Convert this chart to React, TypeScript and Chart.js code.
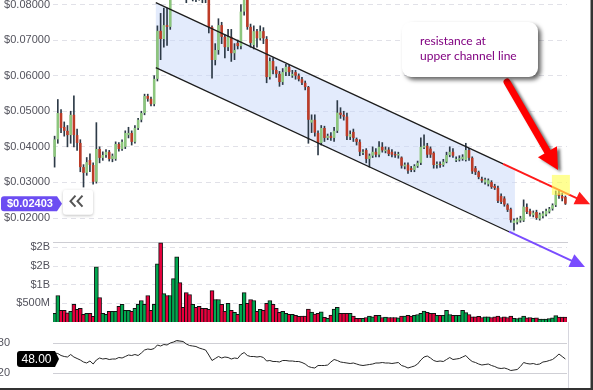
import React, { useEffect, useRef } from "react";
import { Chart, registerables } from "chart.js";

Chart.register(...registerables);

// ---------------- data ----------------
const OPEN = [
  0.0372, 0.0421, 0.0495, 0.0456, 0.0445, 0.0433, 0.0490, 0.0433, 0.0411, 0.0343,
  0.0327, 0.0363, 0.0349, 0.0302, 0.0394, 0.0369, 0.0377, 0.0386, 0.0366, 0.0366,
  0.0408, 0.0394, 0.0400, 0.0433, 0.0439, 0.0414, 0.0453, 0.0476, 0.0495, 0.0543,
  0.0535, 0.0520, 0.0591, 0.0726, 0.0703, 0.0742, 0.0737, 0.0830, 0.0880, 0.0960,
  0.0900, 0.0880, 0.0850, 0.0830, 0.0860, 0.0845, 0.0835, 0.0825, 0.0813, 0.0737,
  0.0644, 0.0672, 0.0742, 0.0709, 0.0680, 0.0709, 0.0663, 0.0692, 0.0683, 0.0780,
  0.0830, 0.0737, 0.0686, 0.0725, 0.0705, 0.0725, 0.0703, 0.0596, 0.0641, 0.0616,
  0.0605, 0.0582, 0.0610, 0.0625, 0.0600, 0.0610, 0.0600, 0.0590, 0.0580, 0.0568,
  0.0468, 0.0476, 0.0439, 0.0411, 0.0453, 0.0425, 0.0431, 0.0425, 0.0445, 0.0496,
  0.0490, 0.0485, 0.0428, 0.0442, 0.0422, 0.0414, 0.0383, 0.0391, 0.0366, 0.0375,
  0.0386, 0.0378, 0.0400, 0.0388, 0.0392, 0.0386, 0.0380, 0.0376, 0.0370, 0.0345,
  0.0350, 0.0340, 0.0335, 0.0346, 0.0355, 0.0398, 0.0403, 0.0395, 0.0383, 0.0349,
  0.0352, 0.0349, 0.0358, 0.0377, 0.0386, 0.0362, 0.0364, 0.0366, 0.0363, 0.0391,
  0.0369, 0.0340, 0.0329, 0.0310, 0.0300, 0.0295, 0.0301, 0.0290, 0.0285, 0.0262,
  0.0255, 0.0237, 0.0225, 0.0186, 0.0188, 0.0193, 0.0193, 0.0231, 0.0220, 0.0208,
  0.0217, 0.0198, 0.0205, 0.0210, 0.0218, 0.0226, 0.0236, 0.0270, 0.0262, 0.0259,
];
const HIGH = [
  0.0430, 0.0533, 0.0505, 0.0470, 0.0460, 0.0500, 0.0543, 0.0450, 0.0420, 0.0350,
  0.0370, 0.0380, 0.0355, 0.0468, 0.0400, 0.0386, 0.0392, 0.0390, 0.0380, 0.0414,
  0.0412, 0.0420, 0.0445, 0.0455, 0.0445, 0.0460, 0.0480, 0.0500, 0.0548, 0.0548,
  0.0540, 0.0600, 0.0740, 0.0775, 0.0790, 0.0790, 0.0850, 0.0900, 0.0990, 0.1000,
  0.0920, 0.0900, 0.0880, 0.0880, 0.0870, 0.0860, 0.0850, 0.0840, 0.0825, 0.0740,
  0.0690, 0.0760, 0.0750, 0.0715, 0.0730, 0.0730, 0.0690, 0.0700, 0.0800, 0.0860,
  0.0850, 0.0745, 0.0740, 0.0730, 0.0740, 0.0735, 0.0710, 0.0650, 0.0650, 0.0625,
  0.0612, 0.0620, 0.0632, 0.0630, 0.0615, 0.0615, 0.0605, 0.0595, 0.0585, 0.0570,
  0.0490, 0.0490, 0.0445, 0.0460, 0.0458, 0.0436, 0.0440, 0.0455, 0.0530, 0.0510,
  0.0500, 0.0495, 0.0445, 0.0450, 0.0425, 0.0420, 0.0392, 0.0395, 0.0380, 0.0400,
  0.0395, 0.0415, 0.0412, 0.0400, 0.0398, 0.0392, 0.0386, 0.0385, 0.0372, 0.0355,
  0.0355, 0.0345, 0.0350, 0.0360, 0.0425, 0.0434, 0.0410, 0.0400, 0.0386, 0.0358,
  0.0358, 0.0365, 0.0385, 0.0400, 0.0395, 0.0372, 0.0375, 0.0378, 0.0410, 0.0396,
  0.0372, 0.0345, 0.0332, 0.0315, 0.0312, 0.0310, 0.0305, 0.0295, 0.0290, 0.0268,
  0.0260, 0.0240, 0.0228, 0.0198, 0.0200, 0.0205, 0.0251, 0.0240, 0.0225, 0.0220,
  0.0222, 0.0214, 0.0218, 0.0225, 0.0230, 0.0240, 0.0276, 0.0280, 0.0270, 0.0262,
];
const LOW = [
  0.0343, 0.0410, 0.0440, 0.0430, 0.0400, 0.0410, 0.0400, 0.0390, 0.0330, 0.0287,
  0.0320, 0.0330, 0.0295, 0.0298, 0.0355, 0.0362, 0.0370, 0.0360, 0.0358, 0.0362,
  0.0388, 0.0390, 0.0395, 0.0425, 0.0405, 0.0410, 0.0448, 0.0470, 0.0490, 0.0528,
  0.0515, 0.0515, 0.0585, 0.0645, 0.0680, 0.0685, 0.0730, 0.0815, 0.0860, 0.0870,
  0.0850, 0.0805, 0.0815, 0.0810, 0.0808, 0.0812, 0.0805, 0.0805, 0.0720, 0.0593,
  0.0630, 0.0660, 0.0690, 0.0650, 0.0670, 0.0640, 0.0645, 0.0675, 0.0675, 0.0770,
  0.0730, 0.0680, 0.0675, 0.0680, 0.0700, 0.0690, 0.0580, 0.0590, 0.0605, 0.0595,
  0.0570, 0.0575, 0.0600, 0.0600, 0.0595, 0.0590, 0.0585, 0.0575, 0.0560, 0.0410,
  0.0440, 0.0430, 0.0377, 0.0405, 0.0415, 0.0420, 0.0418, 0.0415, 0.0440, 0.0480,
  0.0475, 0.0420, 0.0420, 0.0415, 0.0405, 0.0375, 0.0378, 0.0355, 0.0343, 0.0370,
  0.0372, 0.0372, 0.0385, 0.0383, 0.0375, 0.0372, 0.0370, 0.0368, 0.0340, 0.0338,
  0.0325, 0.0330, 0.0330, 0.0342, 0.0350, 0.0395, 0.0370, 0.0370, 0.0340, 0.0340,
  0.0342, 0.0345, 0.0355, 0.0372, 0.0370, 0.0358, 0.0360, 0.0362, 0.0360, 0.0362,
  0.0325, 0.0322, 0.0310, 0.0300, 0.0295, 0.0290, 0.0283, 0.0280, 0.0243, 0.0240,
  0.0233, 0.0218, 0.0188, 0.0166, 0.0183, 0.0188, 0.0190, 0.0212, 0.0205, 0.0203,
  0.0196, 0.0194, 0.0200, 0.0206, 0.0214, 0.0222, 0.0232, 0.0255, 0.0248, 0.0238,
];
const CLOSE = [
  0.0421, 0.0495, 0.0453, 0.0445, 0.0433, 0.0490, 0.0433, 0.0411, 0.0343, 0.0327,
  0.0357, 0.0349, 0.0302, 0.0394, 0.0369, 0.0377, 0.0386, 0.0366, 0.0375, 0.0408,
  0.0394, 0.0414, 0.0439, 0.0439, 0.0414, 0.0453, 0.0476, 0.0495, 0.0543, 0.0535,
  0.0520, 0.0591, 0.0726, 0.0703, 0.0742, 0.0737, 0.0830, 0.0880, 0.0960, 0.0900,
  0.0880, 0.0850, 0.0830, 0.0860, 0.0845, 0.0835, 0.0825, 0.0813, 0.0737, 0.0644,
  0.0672, 0.0742, 0.0709, 0.0680, 0.0709, 0.0663, 0.0672, 0.0683, 0.0780, 0.0830,
  0.0737, 0.0692, 0.0725, 0.0705, 0.0725, 0.0705, 0.0596, 0.0641, 0.0616, 0.0605,
  0.0582, 0.0610, 0.0625, 0.0610, 0.0605, 0.0600, 0.0590, 0.0580, 0.0568, 0.0476,
  0.0476, 0.0440, 0.0411, 0.0453, 0.0425, 0.0431, 0.0425, 0.0445, 0.0496, 0.0490,
  0.0485, 0.0430, 0.0436, 0.0425, 0.0414, 0.0386, 0.0386, 0.0366, 0.0375, 0.0386,
  0.0378, 0.0400, 0.0390, 0.0392, 0.0380, 0.0378, 0.0376, 0.0380, 0.0347, 0.0350,
  0.0333, 0.0335, 0.0346, 0.0355, 0.0400, 0.0403, 0.0378, 0.0378, 0.0349, 0.0352,
  0.0349, 0.0358, 0.0377, 0.0386, 0.0375, 0.0366, 0.0368, 0.0372, 0.0391, 0.0369,
  0.0331, 0.0329, 0.0315, 0.0305, 0.0308, 0.0306, 0.0287, 0.0284, 0.0248, 0.0245,
  0.0238, 0.0223, 0.0194, 0.0193, 0.0196, 0.0199, 0.0232, 0.0217, 0.0210, 0.0215,
  0.0200, 0.0210, 0.0213, 0.0220, 0.0226, 0.0236, 0.0266, 0.0262, 0.0255, 0.02403,
];
// volume in millions of dollars
const VOLUME = [
  231, 709, 310, 310, 248, 284, 470, 337, 364, 204,
  230, 230, 151, 1480, 656, 230, 204, 284, 284, 284,
  417, 470, 310, 310, 284, 364, 470, 576, 470, 709,
  310, 470, 1560, 2119, 762, 709, 709, 1162, 1747, 1055,
  390, 789, 736, 470, 390, 417, 364, 364, 337, 842,
  603, 603, 470, 284, 497, 310, 257, 204, 470, 789,
  497, 603, 576, 284, 337, 310, 497, 576, 470, 364,
  257, 284, 230, 204, 204, 177, 151, 160, 160, 346,
  266, 213, 230, 275, 124, 98, 186, 346, 390, 230,
  230, 230, 230, 160, 98, 98, 98, 120, 160, 140,
  180, 180, 120, 130, 120, 120, 120, 110, 160, 160,
  180, 160, 180, 200, 230, 290, 260, 230, 230, 180,
  180, 180, 310, 200, 180, 180, 180, 310, 250, 200,
  140, 140, 150, 120, 140, 140, 120, 140, 160, 120,
  140, 120, 160, 100, 90, 110, 160, 110, 120, 100,
  110, 80, 80, 80, 90, 110, 170, 130, 130, 130,
];
const RSI = [
  60, 59, 55, 53, 52, 57, 52, 49, 46, 42,
  40, 44, 38, 46, 50, 48, 49, 47, 48, 48,
  51, 50, 53, 56, 55, 57, 55, 60, 66, 68,
  67, 69, 76, 74, 77, 76, 80, 82, 85, 84,
  83, 78, 75, 74, 73, 70, 68, 66, 56, 45,
  49, 53, 50, 52, 51, 48, 50, 49, 57, 61,
  55, 53, 53, 52, 53, 51, 44, 45, 43, 43,
  42, 45, 45, 44, 44, 43, 43, 41, 38, 33,
  31, 30, 35, 35, 35, 36, 42, 47, 45, 42,
  41, 40, 39, 40, 38, 36, 35, 36, 37, 38,
  40, 40, 41, 40, 40, 39, 40, 41, 35, 33,
  30, 32, 34, 38, 46, 52, 54, 50, 45, 43,
  44, 43, 47, 51, 47, 48, 49, 52, 55, 48,
  43, 41, 38, 36, 37, 38, 35, 33, 30, 29,
  30, 28, 25, 26, 27, 33, 41, 39, 38, 39,
  37, 38, 42, 43, 45, 47, 52, 58, 53, 48,
];
const LABELS = CLOSE.map((_, i) => String(i));

const PRICE_TICKS = [0.02, 0.03, 0.04, 0.05, 0.06, 0.07, 0.08];
const PRICE_MIN = 0.01326;
const PRICE_MAX = 0.08126;
const VOLUME_TICKS = [500, 1000, 1500, 2000];
const VOLUME_MAX = 2143;
const RSI_TICKS = [20, 80];
const RSI_MIN = -10;
const RSI_MAX = 122;

// annotations in data space: [candle index, price]
const CHANNEL_UPPER = [[31.5, 0.0805], [139.6, 0.0352]];
const CHANNEL_LOWER = [[31.5, 0.06225], [141.45, 0.01615]];
const CHANNEL_FILL_END = 143.3;
const RESISTANCE_TIP = 166.7;
const SUPPORT_TIP = 165.1;
const HIGHLIGHT_BOX = [[154.8, 0.03211], [160.4, 0.02649]];
const POINTER_ARROW = [[140.83, 0.05823], [156.7, 0.03351]];
const CALLOUT_BOX = [[108.14, 0.07508], [150.47, 0.05963]];
const CALLOUT_TEXT = ["resistance at", "upper channel line"];

// ---------------- layout / style ----------------
const W = 593;
const H = 390;
const AXIS_W = 53;
const PLOT_RIGHT = 567;
const PRICE_PANE = [0, 242];
const VOLUME_PANE = [242, 322];
const RSI_PANE = [322, 388];

const UP = "#8cc67d";
const DOWN = "#bd3b27";
const WICK = "#2d3a47";
const VOL_UP = "#00a84f";
const VOL_DOWN = "#e8003d";
const AXIS_FONT = { family: "'Liberation Sans', Arial, sans-serif", size: 11 };

function lineAt(line: number[][], i: number) {
  const [[i0, p0], [i1, p1]] = line;
  return p0 + ((p1 - p0) * (i - i0)) / (i1 - i0);
}

function arrowHead(ctx: any, x1: number, y1: number, x2: number, y2: number, len: number, half: number) {
  const a = Math.atan2(y2 - y1, x2 - x1);
  const bx = x2 - len * Math.cos(a);
  const by = y2 - len * Math.sin(a);
  ctx.beginPath();
  ctx.moveTo(x2, y2);
  ctx.lineTo(bx + half * Math.sin(a), by - half * Math.cos(a));
  ctx.lineTo(bx - half * Math.sin(a), by + half * Math.cos(a));
  ctx.closePath();
  ctx.fill();
}

function yAxis(min: number, max: number, ticks: number[], fmt: (v: number) => string, pad: number, gridColor: string, dash: number[]) {
  return {
    type: "linear",
    position: "left",
    min,
    max,
    afterBuildTicks: (s: any) => {
      s.ticks = ticks.map((v) => ({ value: v }));
    },
    afterFit: (s: any) => {
      s.width = AXIS_W;
      s.paddingTop = 0;
      s.paddingBottom = 0;
    },
    ticks: { autoSkip: false, color: "#52525c", font: AXIS_FONT, padding: pad, callback: (v: any) => fmt(Number(v)) },
    grid: { color: gridColor, drawTicks: false, lineWidth: 1 },
    border: { display: false, dash },
  };
}

function baseOptions(pane: number[], y: any) {
  return {
    responsive: false,
    animation: false,
    events: [],
    layout: { padding: { left: 0, right: W - PLOT_RIGHT, top: pane[0], bottom: H - pane[1] } },
    plugins: { legend: { display: false }, tooltip: { enabled: false } },
    scales: { x: { type: "category", display: false, offset: true }, y },
  };
}

const isUp = (i: number) => CLOSE[i] >= OPEN[i];

export default function App() {
  const priceRef = useRef<HTMLCanvasElement>(null);
  const volRef = useRef<HTMLCanvasElement>(null);
  const rsiRef = useRef<HTMLCanvasElement>(null);

  useEffect(() => {
    const charts: any[] = [];

    // ---------- price ----------
    const priceOverlay = {
      id: "priceOverlay",
      beforeDatasetsDraw(chart: any) {
        const { ctx, scales } = chart;
        const X = (i: number) => scales.x.getPixelForValue(i);
        const Y = (p: number) => scales.y.getPixelForValue(p);
        const s = CHANNEL_UPPER[0][0];
        ctx.save();
        ctx.beginPath();
        ctx.moveTo(X(s), Y(lineAt(CHANNEL_UPPER, s)));
        ctx.lineTo(X(CHANNEL_FILL_END), Y(lineAt(CHANNEL_UPPER, CHANNEL_FILL_END)));
        ctx.lineTo(X(CHANNEL_FILL_END), Y(lineAt(CHANNEL_LOWER, CHANNEL_FILL_END)));
        ctx.lineTo(X(s), Y(lineAt(CHANNEL_LOWER, s)));
        ctx.closePath();
        ctx.fillStyle = "rgba(200,216,250,0.5)";
        ctx.fill();
        ctx.restore();
      },
      afterDraw(chart: any) {
        const { ctx, scales } = chart;
        const X = (i: number) => scales.x.getPixelForValue(i);
        const Y = (p: number) => scales.y.getPixelForValue(p);
        ctx.save();
        // channel lines
        ctx.strokeStyle = "#1c1c1c";
        ctx.lineWidth = 1.3;
        for (const line of [CHANNEL_UPPER, CHANNEL_LOWER]) {
          ctx.beginPath();
          ctx.moveTo(X(line[0][0]), Y(line[0][1]));
          ctx.lineTo(X(line[1][0]), Y(line[1][1]));
          ctx.stroke();
        }
        // extensions
        const ext = (line: number[][], tip: number, color: string) => {
          const x1 = X(line[1][0]);
          const y1 = Y(line[1][1]);
          const x2 = X(tip);
          const y2 = Y(lineAt(line, tip));
          const a = Math.atan2(y2 - y1, x2 - x1);
          ctx.strokeStyle = color;
          ctx.fillStyle = color;
          ctx.lineWidth = 2;
          ctx.beginPath();
          ctx.moveTo(x1, y1);
          ctx.lineTo(x2 - 12 * Math.cos(a), y2 - 12 * Math.sin(a));
          ctx.stroke();
          arrowHead(ctx, x1, y1, x2, y2, 15, 7);
        };
        ext(CHANNEL_UPPER, RESISTANCE_TIP, "#ff1a1a");
        ext(CHANNEL_LOWER, SUPPORT_TIP, "#7a4cff");
        // highlight box
        ctx.fillStyle = "rgba(255,255,80,0.62)";
        const hx0 = X(HIGHLIGHT_BOX[0][0]);
        const hy0 = Y(HIGHLIGHT_BOX[0][1]);
        ctx.fillRect(hx0, hy0, X(HIGHLIGHT_BOX[1][0]) - hx0, Y(HIGHLIGHT_BOX[1][1]) - hy0);
        // big pointer arrow
        {
          const x1 = X(POINTER_ARROW[0][0]);
          const y1 = Y(POINTER_ARROW[0][1]);
          const x2 = X(POINTER_ARROW[1][0]);
          const y2 = Y(POINTER_ARROW[1][1]);
          const a = Math.atan2(y2 - y1, x2 - x1);
          ctx.save();
          ctx.shadowColor = "rgba(0,0,0,0.55)";
          ctx.shadowBlur = 3;
          ctx.shadowOffsetX = 3;
          ctx.shadowOffsetY = 2;
          ctx.strokeStyle = "#ff0000";
          ctx.fillStyle = "#ff0000";
          ctx.lineWidth = 7;
          ctx.lineCap = "round";
          ctx.beginPath();
          ctx.moveTo(x1, y1);
          ctx.lineTo(x2 - 18 * Math.cos(a), y2 - 18 * Math.sin(a));
          ctx.stroke();
          arrowHead(ctx, x1, y1, x2, y2, 21, 11);
          ctx.restore();
        }
        // callout
        {
          const bx0 = X(CALLOUT_BOX[0][0]);
          const by0 = Y(CALLOUT_BOX[0][1]);
          const bx1 = X(CALLOUT_BOX[1][0]);
          const by1 = Y(CALLOUT_BOX[1][1]);
          ctx.save();
          ctx.shadowColor = "rgba(0,0,0,0.6)";
          ctx.shadowBlur = 4;
          ctx.shadowOffsetX = 3;
          ctx.shadowOffsetY = 3;
          ctx.fillStyle = "#ffffff";
          ctx.beginPath();
          ctx.roundRect(bx0, by0, bx1 - bx0, by1 - by0, 9);
          ctx.fill();
          ctx.restore();
          ctx.fillStyle = "#800080";
          ctx.font = "12px Lato, 'Open Sans', sans-serif";
          ctx.textBaseline = "alphabetic";
          ctx.textAlign = "left";
          CALLOUT_TEXT.forEach((t, k) => ctx.fillText(t, bx0 + 18, by0 + 23 + k * 15.5));
        }
        // last price label
        {
          const last = CLOSE[CLOSE.length - 1];
          const ly = Y(last);
          ctx.fillStyle = "#6c4df2";
          ctx.beginPath();
          ctx.moveTo(4, ly - 7.5);
          ctx.lineTo(57, ly - 7.5);
          ctx.lineTo(62, ly);
          ctx.lineTo(57, ly + 7.5);
          ctx.lineTo(4, ly + 7.5);
          ctx.quadraticCurveTo(1, ly + 7.5, 1, ly + 4.5);
          ctx.lineTo(1, ly - 4.5);
          ctx.quadraticCurveTo(1, ly - 7.5, 4, ly - 7.5);
          ctx.fill();
          ctx.fillStyle = "#ffffff";
          ctx.font = "bold 11px 'Liberation Sans', Arial, sans-serif";
          ctx.textBaseline = "middle";
          ctx.textAlign = "left";
          ctx.fillText("$" + last.toFixed(5), 7, ly + 0.5);
          // "<<" button
          ctx.save();
          ctx.shadowColor = "rgba(0,0,0,0.25)";
          ctx.shadowBlur = 3;
          ctx.shadowOffsetY = 1;
          ctx.fillStyle = "#ffffff";
          ctx.beginPath();
          ctx.roundRect(63, ly - 14, 30, 25, 3);
          ctx.fill();
          ctx.restore();
          ctx.strokeStyle = "#555";
          ctx.lineWidth = 2;
          for (const dx of [0, 7]) {
            ctx.beginPath();
            ctx.moveTo(75.5 + dx, ly - 8);
            ctx.lineTo(70.5 + dx, ly - 2.5);
            ctx.lineTo(75.5 + dx, ly + 3);
            ctx.stroke();
          }
        }
        ctx.restore();
      },
    };

    if (priceRef.current) {
      charts.push(
        new Chart(priceRef.current, {
          type: "bar",
          data: {
            labels: LABELS,
            datasets: [
              {
                data: OPEN.map((o, i) => [o, CLOSE[i]]),
                backgroundColor: OPEN.map((_, i) => (isUp(i) ? UP : DOWN)),
                categoryPercentage: 1,
                barPercentage: 0.8,
                grouped: false,
                order: 0,
              },
              {
                data: LOW.map((l, i) => [l, HIGH[i]]),
                backgroundColor: WICK,
                barThickness: 1,
                grouped: false,
                order: 1,
              },
            ],
          },
          options: baseOptions(
            PRICE_PANE,
            yAxis(PRICE_MIN, PRICE_MAX, PRICE_TICKS, (v) => "$" + v.toFixed(5), 3, "#e1e1e8", [5, 4])
          ),
          plugins: [priceOverlay],
        } as any)
      );
    }

    // ---------- volume ----------
    const volOverlay = {
      id: "volOverlay",
      beforeDatasetsDraw(chart: any) {
        const { ctx, chartArea } = chart;
        ctx.save();
        ctx.strokeStyle = "#cdcdd3";
        ctx.lineWidth = 1;
        ctx.beginPath();
        ctx.moveTo(chartArea.left, chartArea.top + 0.5);
        ctx.lineTo(chartArea.right + 1, chartArea.top + 0.5);
        ctx.stroke();
        ctx.restore();
      },
    };
    if (volRef.current) {
      charts.push(
        new Chart(volRef.current, {
          type: "bar",
          data: {
            labels: LABELS,
            datasets: [
              {
                data: VOLUME,
                backgroundColor: VOLUME.map((_, i) => (isUp(i) ? VOL_UP : VOL_DOWN)),
                borderColor: "#111111",
                borderWidth: 1,
                barThickness: 4,
                grouped: false,
              },
            ],
          },
          options: baseOptions(
            VOLUME_PANE,
            yAxis(0, VOLUME_MAX, VOLUME_TICKS, (v) => (v >= 1000 ? "$" + Math.round(v / 1000) + "B" : "$" + v + "M"), 3, "#e1e1e8", [5, 4])
          ),
          plugins: [volOverlay],
        } as any)
      );
    }

    // ---------- RSI ----------
    const rsiOverlay = {
      id: "rsiOverlay",
      afterDraw(chart: any) {
        const { ctx, chartArea, scales } = chart;
        ctx.save();
        ctx.strokeStyle = "#d6d6de";
        ctx.lineWidth = 1;
        ctx.beginPath();
        ctx.moveTo(chartArea.right + 1.5, chartArea.top);
        ctx.lineTo(chartArea.right + 1.5, chartArea.bottom);
        ctx.stroke();
        const last = RSI[RSI.length - 1];
        const ry = scales.y.getPixelForValue(last);
        ctx.fillStyle = "#000000";
        ctx.beginPath();
        ctx.moveTo(20, ry - 8);
        ctx.lineTo(55, ry - 8);
        ctx.lineTo(59, ry);
        ctx.lineTo(55, ry + 8);
        ctx.lineTo(20, ry + 8);
        ctx.quadraticCurveTo(17, ry + 8, 17, ry + 5);
        ctx.lineTo(17, ry - 5);
        ctx.quadraticCurveTo(17, ry - 8, 20, ry - 8);
        ctx.fill();
        ctx.fillStyle = "#ffffff";
        ctx.font = "12px 'Liberation Sans', Arial, sans-serif";
        ctx.textAlign = "center";
        ctx.textBaseline = "middle";
        ctx.fillText(last.toFixed(2), 36.5, ry + 0.5);
        ctx.restore();
      },
    };
    if (rsiRef.current) {
      charts.push(
        new Chart(rsiRef.current, {
          type: "line",
          data: {
            labels: LABELS,
            datasets: [
              {
                data: RSI,
                borderColor: "#262626",
                borderWidth: 1,
                pointRadius: 0,
                tension: 0,
                fill: { target: { value: 80 }, above: "rgba(120,120,120,0.3)", below: "rgba(0,0,0,0)" },
              },
            ],
          },
          options: baseOptions(RSI_PANE, yAxis(RSI_MIN, RSI_MAX, RSI_TICKS, (v) => String(v), 43, "#cfcfd5", [])),
          plugins: [rsiOverlay],
        } as any)
      );
    }

    return () => charts.forEach((c) => c.destroy());
  }, []);

  const layer: React.CSSProperties = { position: "absolute", left: 0, top: 0 };
  return (
    <div style={{ position: "fixed", left: 0, top: 0, width: W, height: H, background: "#ffffff", overflow: "hidden" }}>
      <canvas ref={volRef} width={W} height={H} style={layer} />
      <canvas ref={rsiRef} width={W} height={H} style={layer} />
      <canvas ref={priceRef} width={W} height={H} style={layer} />
      <div style={{ position: "absolute", left: 590, top: 0, width: 1, height: H, background: "#9a9a9a" }} />
      <div style={{ position: "absolute", left: 591, top: 0, width: 2, height: H, background: "#333333" }} />
      <div style={{ position: "absolute", left: 0, top: 388, width: W, height: 2, background: "#333333" }} />
    </div>
  );
}
